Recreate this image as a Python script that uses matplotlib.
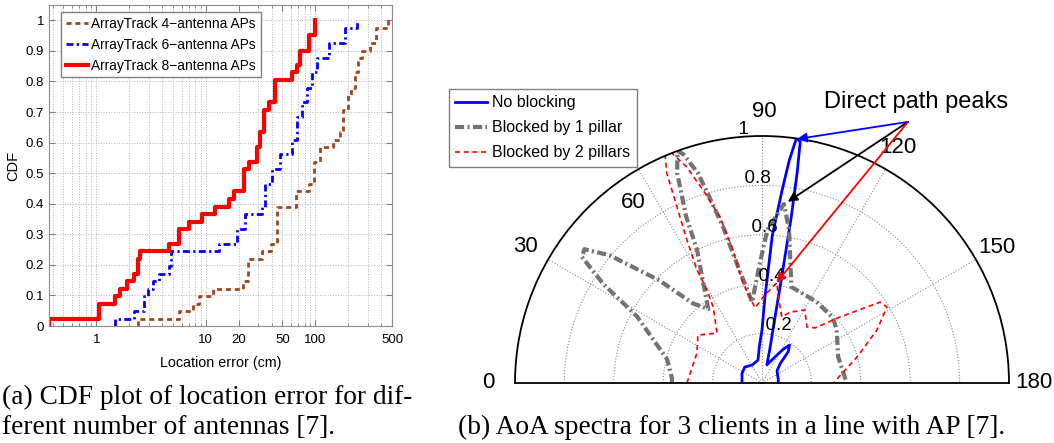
import numpy as np
import matplotlib.pyplot as plt
from matplotlib.ticker import LogLocator, NullFormatter

plt.rcParams['font.family'] = ['Liberation Sans', 'DejaVu Sans']

# (a) CDF of location error: step positions (cm) and CDF level after each step
err_4ant = [2.39, 2.39, 5.72, 7.56, 8.7, 11.5, 21.6, 24, 32.6, 39, 45, 66, 87, 97,
            111, 146, 168, 180, 200, 213, 230, 245, 265, 314, 360, 460]
cdf_4ant = [0, 0.024, 0.049, 0.073, 0.098, 0.122, 0.146, 0.22, 0.244, 0.268, 0.39, 0.44,
            0.464, 0.537, 0.585, 0.61, 0.634, 0.707, 0.756, 0.78, 0.83, 0.878, 0.90,
            0.927, 0.976, 1.0]
err_6ant = [1.47, 1.47, 2.23, 2.75, 2.95, 3.27, 3.77, 4.64, 4.8, 13.2, 19.4, 23, 32.6,
            35, 40, 48, 61, 68, 75, 84, 93, 103, 132, 188, 240]
cdf_6ant = [0, 0.024, 0.049, 0.098, 0.122, 0.146, 0.171, 0.195, 0.244, 0.268, 0.317,
            0.366, 0.39, 0.464, 0.512, 0.561, 0.61, 0.683, 0.732, 0.78, 0.83, 0.878,
            0.927, 0.976, 1.0]
err_8ant = [0.37, 0.37, 1.06, 1.49, 1.63, 1.91, 2.23, 2.4, 2.5, 4.64, 5.64, 6.95, 9.3,
            12.2, 16.3, 18.1, 22.3, 24.7, 29.3, 31.5, 33.8, 37.6, 43, 61, 68, 73, 87, 100]
cdf_8ant = [0, 0.024, 0.073, 0.098, 0.122, 0.146, 0.171, 0.22, 0.244, 0.268, 0.317,
            0.341, 0.366, 0.39, 0.415, 0.44, 0.512, 0.537, 0.585, 0.634, 0.707, 0.732,
            0.805, 0.83, 0.854, 0.90, 0.951, 1.0]
labels_a = ['ArrayTrack 4\u2212antenna APs', 'ArrayTrack 6\u2212antenna APs',
            'ArrayTrack 8\u2212antenna APs']
xticks_a = [1, 10, 20, 50, 100, 500]
yticks_a = [0, 0.1, 0.2, 0.3, 0.4, 0.5, 0.6, 0.7, 0.8, 0.9, 1]

# (b) AoA spectra: angle (deg) and normalised power
aoa_none = [0, 26, 43, 61, 80, 86, 90, 92, 94, 96, 97, 98, 99, 99.5, 100, 100.5, 101,
            103, 105, 115, 122, 126, 130, 133, 140, 150, 165, 180]
pow_none = [0.081, 0.09, 0.095, 0.083, 0.094, 0.15, 0.215, 0.35, 0.6, 0.79, 0.91, 1.0,
            0.99, 0.86, 0.68, 0.45, 0.3, 0.14, 0.076, 0.11, 0.16, 0.19, 0.165, 0.11,
            0.08, 0.072, 0.068, 0.066]
aoa_one = [0, 3, 14, 28, 32, 35, 37, 40, 45, 49, 54, 60, 64, 65.5, 68, 70, 71, 73, 74,
           76, 78, 83, 89, 92, 97, 100, 107, 113, 124, 137.6, 144.6, 161, 180]
pow_one = [0.365, 0.365, 0.396, 0.572, 0.759, 0.89, 0.9, 0.804, 0.587, 0.428, 0.37,
           0.48, 0.6, 0.741, 0.917, 1.0, 0.98, 0.89, 0.8, 0.651, 0.5, 0.33, 0.486, 0.62,
           0.73, 0.63, 0.407, 0.399, 0.396, 0.39, 0.371, 0.326, 0.343]
aoa_two = [0, 24.7, 36.8, 48, 57.3, 59.4, 60.1, 62.3, 64.2, 65.6, 66.9, 68.6, 70.8, 73,
           75.8, 77.7, 79, 84.7, 90.7, 98.4, 100.8, 106.7, 111.5, 120.4, 128.7, 134,
           139.8, 145.6, 148.7, 155.2, 164.7, 180]
pow_two = [0.304, 0.29, 0.324, 0.272, 0.366, 0.438, 0.528, 0.654, 0.79, 0.933, 1.0, 1.0,
           0.925, 0.817, 0.693, 0.551, 0.42, 0.305, 0.348, 0.41, 0.354, 0.279, 0.308,
           0.343, 0.291, 0.31, 0.414, 0.58, 0.592, 0.513, 0.399, 0.289]
labels_b = ['No blocking', 'Blocked by 1 pillar', 'Blocked by 2 pillars']
angle_labels = [0, 30, 60, 90, 120, 150, 180]
r_labels = [0.2, 0.4, 0.6, 0.8, 1]
peak_src = (119.2, 1.211)
peak_tips = [(98.2, 0.998, 'b'), (98.1, 0.741, 'k'), (98.2, 0.41, 'r')]

fig = plt.figure(figsize=(10.54, 4.43), dpi=100)

# ---- (a) CDF
ax = fig.add_axes([0.0465, 0.2641, 0.3254, 0.7246])
ax.plot(err_4ant, cdf_4ant, drawstyle='steps-post', color='#a0461e', lw=2,
        ls=(0, (1.8, 1.4)), label=labels_a[0])
ax.plot(err_6ant, cdf_6ant, drawstyle='steps-post', color='#0000ff', lw=2,
        ls=(0, (2.5, 1.2, 0.8, 1.2)), label=labels_a[1])
ax.plot(err_8ant, cdf_8ant, drawstyle='steps-post', color='#ff0000', lw=3,
        label=labels_a[2])
ax.set_xscale('log')
ax.set_xlim(0.37, 500)
ax.set_ylim(0, 1.05)
ax.set_xticks(xticks_a)
ax.set_xticklabels([str(v) for v in xticks_a])
ax.xaxis.set_minor_locator(LogLocator(subs=range(2, 10)))
ax.xaxis.set_minor_formatter(NullFormatter())
ax.set_yticks(yticks_a)
ax.set_yticklabels(['%g' % v for v in yticks_a])
ax.grid(True, which='both', axis='x', ls=':', color='0.7', lw=0.7)
ax.grid(True, which='major', axis='y', ls=':', color='0.7', lw=0.7)
ax.tick_params(which='both', direction='in', top=True, right=True, labelsize=9.5,
               color='0.5')
ax.tick_params(which='major', length=4)
ax.tick_params(which='minor', length=2)
ax.tick_params(axis='x', pad=6)
for sp in ax.spines.values():
    sp.set_color('0.55')
ax.set_xlabel('Location error (cm)', fontsize=10.3, labelpad=7)
ax.set_ylabel('CDF', fontsize=10.5, labelpad=4)
ax.legend(loc='upper left', bbox_to_anchor=(61 / 1054, 1 - 12 / 443),
          bbox_transform=fig.transFigure, borderaxespad=0, fontsize=9.9,
          handlelength=1.6, labelspacing=0.5, handletextpad=0.25, fancybox=False,
          edgecolor='0.5', framealpha=1, borderpad=0.35)

# ---- (b) AoA polar (half-disc wedge is centred in a square axes box)
R = 247
cx, cy = 762, 383
side = 2 * R
box_bottom = cy + 0.5 * R
ax2 = fig.add_axes([(cx - R) / 1054, 1 - box_bottom / 443, side / 1054, side / 443],
                   projection='polar')
ax2.set_theta_zero_location('W')
ax2.set_theta_direction(-1)
ax2.set_thetamin(0)
ax2.set_thetamax(180)
ax2.plot(np.deg2rad(aoa_none), pow_none, color='#0000ff', lw=2, label=labels_b[0])
ax2.plot(np.deg2rad(aoa_one), pow_one, color='0.45', lw=3,
         ls=(0, (2.2, 0.8, 0.5, 0.8)), label=labels_b[1])
ax2.plot(np.deg2rad(aoa_two), pow_two, color='#ff0000', lw=1.2,
         ls=(0, (3, 2.2)), label=labels_b[2])
ax2.set_ylim(0, 1)
ax2.set_yticks([0.2, 0.4, 0.6, 0.8])
ax2.set_yticklabels([])
ax2.set_xticks(np.deg2rad([30, 60, 90, 120, 150]))
ax2.set_xticklabels([])
ax2.grid(True, color='0.55', ls=':', lw=0.8)
ax2.tick_params(length=0)
for name in ['polar', 'start', 'end']:
    ax2.spines[name].set_color('k')
    ax2.spines[name].set_linewidth(1.3)

label_pos = {0: (0, 1.11), 30: (30, 1.105), 60: (54.5, 0.90), 90: (90.5, 1.10),
             120: (120, 1.10), 150: (150, 1.10), 180: (180, 1.10)}
for a in angle_labels:
    t, r = label_pos[a]
    ax2.text(np.deg2rad(t), r, str(a), fontsize=16, ha='center', va='center')
for r in r_labels:
    ax2.text(np.deg2rad(82), r, '  %g' % r, fontsize=13.5, ha='left', va='bottom')

for t, r, c in peak_tips:
    ax2.annotate('', xy=(np.deg2rad(t), r), xytext=(np.deg2rad(peak_src[0]), peak_src[1]),
                 arrowprops=dict(arrowstyle='-|>', color=c, lw=1.3, mutation_scale=14,
                                 shrinkA=0, shrinkB=0))
ax2.text(np.deg2rad(118.7), 1.297, 'Direct path peaks', fontsize=17,
         ha='center', va='center')
ax2.legend(loc='upper left', bbox_to_anchor=(449 / 1054, 1 - 89 / 443),
           bbox_transform=fig.transFigure, borderaxespad=0, fontsize=11.5,
           handlelength=2.0, labelspacing=0.62, handletextpad=0.3, fancybox=False,
           edgecolor='0.5', framealpha=1, borderpad=0.4)

# ---- captions
cap = dict(family=['Liberation Serif', 'DejaVu Serif'], fontsize=19.7, va='center')
fig.text(2 / 1054, 1 - 397 / 443, '(a) CDF plot of location error for dif-', **cap)
fig.text(2 / 1054, 1 - 427 / 443, 'ferent number of antennas [7].', **cap)
fig.text(458 / 1054, 1 - 427 / 443,
         '(b) AoA spectra for 3 clients in a line with AP [7].', **cap)

fig.savefig('out.png', dpi=100)
